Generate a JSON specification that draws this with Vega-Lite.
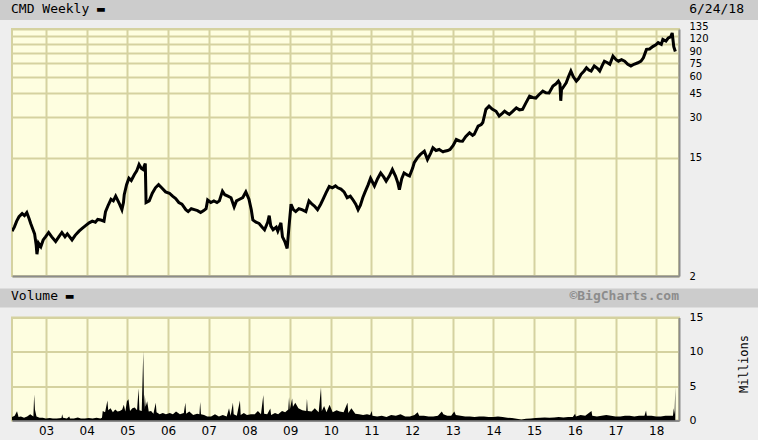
{
  "$schema": "https://vega.github.io/schema/vega-lite/v6.json",
  "background": "#EEEEEE",
  "padding": {"left": 0, "top": 0, "right": 0, "bottom": 10},
  "config": {
    "view": {"stroke": null},
    "font": "DejaVu Sans",
    "title": {"font": "DejaVu Sans Mono", "fontSize": 13, "fontWeight": "normal", "color": "#000000", "baseline": "alphabetic", "frame": "group"},
    "axis": {"labelFont": "DejaVu Sans", "labelFontSize": 11, "labelColor": "#000000", "gridColor": "#D5D2A0", "gridWidth": 2, "gridOpacity": 1, "ticks": false, "domainColor": "#8C8C8C", "domainWidth": 2, "labelFlush": false}
  },
  "datasets": {
    "px": [
      {"d":"2002-03-01","p":4.3},{"d":"2002-03-22","p":4.6},{"d":"2002-04-12","p":5.1},{"d":"2002-05-03","p":5.5},{"d":"2002-05-31","p":5.8},{"d":"2002-06-21","p":5.6},{"d":"2002-07-12","p":5.9},{"d":"2002-08-02","p":5.3},{"d":"2002-08-16","p":4.9},{"d":"2002-09-06","p":4.4},{"d":"2002-09-20","p":4.1},{"d":"2002-10-04","p":3.4},{"d":"2002-10-11","p":2.9},{"d":"2002-10-25","p":3.5},{"d":"2002-11-15","p":3.3},{"d":"2002-12-06","p":3.7},{"d":"2002-12-27","p":3.9},
      {"d":"2003-01-24","p":4.2},{"d":"2003-02-21","p":3.9},{"d":"2003-03-28","p":3.6},{"d":"2003-04-25","p":3.9},{"d":"2003-05-23","p":4.2},{"d":"2003-06-20","p":3.9},{"d":"2003-07-11","p":4.1},{"d":"2003-08-01","p":3.9},{"d":"2003-08-22","p":3.7},{"d":"2003-09-19","p":4.0},{"d":"2003-10-24","p":4.3},{"d":"2003-11-21","p":4.5},{"d":"2003-12-19","p":4.7},
      {"d":"2004-01-23","p":4.95},{"d":"2004-02-20","p":5.1},{"d":"2004-03-19","p":5.0},{"d":"2004-04-09","p":5.25},{"d":"2004-05-07","p":5.2},{"d":"2004-06-04","p":5.1},{"d":"2004-06-18","p":6.0},{"d":"2004-07-09","p":6.6},{"d":"2004-08-06","p":7.4},{"d":"2004-08-27","p":7.2},{"d":"2004-09-17","p":7.8},{"d":"2004-10-08","p":7.2},{"d":"2004-10-22","p":6.8},{"d":"2004-11-12","p":6.2},{"d":"2004-11-26","p":7.0},{"d":"2004-12-03","p":8.0},{"d":"2004-12-24","p":9.5},
      {"d":"2005-01-14","p":10.6},{"d":"2005-02-04","p":10.2},{"d":"2005-03-04","p":11.3},{"d":"2005-03-25","p":12.0},{"d":"2005-04-15","p":13.4},{"d":"2005-05-06","p":12.5},{"d":"2005-05-20","p":12.3},{"d":"2005-06-03","p":13.2},{"d":"2005-06-10","p":13.6},{"d":"2005-06-17","p":7.0},{"d":"2005-07-15","p":7.2},{"d":"2005-08-12","p":8.2},{"d":"2005-09-09","p":9.0},{"d":"2005-10-07","p":9.5},{"d":"2005-11-04","p":9.0},{"d":"2005-12-09","p":8.4},
      {"d":"2006-01-13","p":8.2},{"d":"2006-02-10","p":7.8},{"d":"2006-03-10","p":7.5},{"d":"2006-04-07","p":7.0},{"d":"2006-05-05","p":6.8},{"d":"2006-06-09","p":6.2},{"d":"2006-06-30","p":6.0},{"d":"2006-07-28","p":6.3},{"d":"2006-08-25","p":6.2},{"d":"2006-09-22","p":6.1},{"d":"2006-10-20","p":5.9},{"d":"2006-11-17","p":6.1},{"d":"2006-12-08","p":6.3},{"d":"2006-12-22","p":7.3},
      {"d":"2007-01-19","p":7.0},{"d":"2007-02-16","p":7.2},{"d":"2007-03-16","p":7.0},{"d":"2007-04-06","p":7.2},{"d":"2007-05-04","p":8.5},{"d":"2007-05-25","p":8.0},{"d":"2007-06-22","p":7.8},{"d":"2007-07-20","p":7.6},{"d":"2007-08-17","p":6.5},{"d":"2007-09-07","p":7.2},{"d":"2007-10-05","p":7.4},{"d":"2007-11-02","p":7.6},{"d":"2007-11-16","p":8.0},{"d":"2007-11-30","p":8.4},{"d":"2007-12-28","p":7.4},
      {"d":"2008-01-18","p":6.2},{"d":"2008-02-01","p":5.2},{"d":"2008-02-29","p":5.0},{"d":"2008-03-28","p":4.9},{"d":"2008-04-25","p":4.6},{"d":"2008-05-16","p":4.4},{"d":"2008-06-13","p":5.0},{"d":"2008-06-27","p":5.6},{"d":"2008-07-11","p":4.7},{"d":"2008-08-01","p":4.4},{"d":"2008-08-29","p":4.6},{"d":"2008-09-12","p":4.3},{"d":"2008-10-10","p":4.95},{"d":"2008-10-24","p":3.9},{"d":"2008-11-14","p":3.6},{"d":"2008-12-05","p":3.2},{"d":"2008-12-19","p":4.4},
      {"d":"2009-01-09","p":6.8},{"d":"2009-01-30","p":6.2},{"d":"2009-02-20","p":6.0},{"d":"2009-03-20","p":6.3},{"d":"2009-04-17","p":6.2},{"d":"2009-05-22","p":6.0},{"d":"2009-06-19","p":7.2},{"d":"2009-07-17","p":6.8},{"d":"2009-08-07","p":6.6},{"d":"2009-09-04","p":6.2},{"d":"2009-10-02","p":6.8},{"d":"2009-10-23","p":7.4},{"d":"2009-11-20","p":8.3},{"d":"2009-12-18","p":9.2},
      {"d":"2010-01-15","p":9.0},{"d":"2010-02-12","p":9.3},{"d":"2010-03-05","p":9.0},{"d":"2010-04-02","p":8.8},{"d":"2010-04-30","p":8.4},{"d":"2010-05-28","p":7.6},{"d":"2010-06-25","p":7.8},{"d":"2010-07-16","p":7.4},{"d":"2010-08-13","p":6.8},{"d":"2010-09-03","p":6.2},{"d":"2010-09-24","p":6.7},{"d":"2010-10-15","p":7.6},{"d":"2010-11-05","p":8.4},{"d":"2010-12-03","p":9.5},{"d":"2010-12-24","p":10.6},
      {"d":"2011-01-28","p":9.3},{"d":"2011-02-25","p":10.5},{"d":"2011-03-25","p":11.6},{"d":"2011-04-22","p":10.8},{"d":"2011-05-13","p":10.1},{"d":"2011-06-10","p":11.0},{"d":"2011-07-08","p":12.3},{"d":"2011-08-05","p":11.0},{"d":"2011-08-26","p":9.8},{"d":"2011-09-09","p":8.7},{"d":"2011-09-30","p":10.5},{"d":"2011-10-21","p":11.6},{"d":"2011-11-18","p":11.2},{"d":"2011-12-09","p":11.0},
      {"d":"2012-01-06","p":12.6},{"d":"2012-01-20","p":13.8},{"d":"2012-02-17","p":15.0},{"d":"2012-03-16","p":15.9},{"d":"2012-04-20","p":16.8},{"d":"2012-05-18","p":14.6},{"d":"2012-06-15","p":16.2},{"d":"2012-07-06","p":17.8},{"d":"2012-08-03","p":17.0},{"d":"2012-08-31","p":17.3},{"d":"2012-10-05","p":16.6},{"d":"2012-10-19","p":16.8},{"d":"2012-11-16","p":17.0},{"d":"2012-12-07","p":17.3},
      {"d":"2013-01-04","p":18.5},{"d":"2013-02-01","p":20.5},{"d":"2013-03-01","p":20.0},{"d":"2013-03-29","p":19.9},{"d":"2013-04-26","p":21.5},{"d":"2013-05-31","p":23.0},{"d":"2013-06-28","p":22.0},{"d":"2013-07-12","p":22.4},{"d":"2013-08-16","p":25.8},{"d":"2013-09-13","p":26.5},{"d":"2013-09-27","p":27.4},{"d":"2013-10-25","p":34.3},{"d":"2013-11-22","p":36.2},{"d":"2013-12-20","p":34.5},
      {"d":"2014-01-24","p":33.2},{"d":"2014-02-21","p":30.6},{"d":"2014-03-21","p":32.0},{"d":"2014-04-11","p":33.2},{"d":"2014-05-09","p":32.0},{"d":"2014-05-23","p":31.5},{"d":"2014-06-20","p":33.0},{"d":"2014-07-25","p":35.2},{"d":"2014-08-22","p":34.0},{"d":"2014-09-19","p":34.3},{"d":"2014-10-17","p":38.0},{"d":"2014-11-21","p":43.0},{"d":"2014-12-19","p":42.0},
      {"d":"2015-01-16","p":41.6},{"d":"2015-02-13","p":44.0},{"d":"2015-03-20","p":46.8},{"d":"2015-04-17","p":45.5},{"d":"2015-05-15","p":45.3},{"d":"2015-06-19","p":51.0},{"d":"2015-07-17","p":53.0},{"d":"2015-08-07","p":55.5},{"d":"2015-08-21","p":53.0},{"d":"2015-08-28","p":39.7},{"d":"2015-09-04","p":48.0},{"d":"2015-09-18","p":49.8},{"d":"2015-10-16","p":54.0},{"d":"2015-11-06","p":60.0},{"d":"2015-11-27","p":65.9},{"d":"2015-12-18","p":60.0},
      {"d":"2016-01-15","p":55.5},{"d":"2016-02-05","p":58.0},{"d":"2016-02-26","p":62.3},{"d":"2016-03-25","p":66.0},{"d":"2016-04-15","p":69.7},{"d":"2016-05-06","p":67.0},{"d":"2016-05-27","p":65.9},{"d":"2016-06-24","p":71.9},{"d":"2016-07-22","p":69.0},{"d":"2016-08-12","p":65.9},{"d":"2016-09-02","p":72.0},{"d":"2016-09-23","p":78.0},{"d":"2016-10-21","p":76.0},{"d":"2016-11-11","p":74.0},{"d":"2016-12-09","p":85.0},
      {"d":"2017-01-06","p":80.0},{"d":"2017-01-27","p":78.0},{"d":"2017-02-24","p":80.0},{"d":"2017-03-24","p":78.0},{"d":"2017-04-21","p":74.0},{"d":"2017-05-19","p":71.9},{"d":"2017-06-16","p":74.0},{"d":"2017-07-21","p":75.9},{"d":"2017-08-18","p":78.0},{"d":"2017-09-08","p":82.6},{"d":"2017-10-06","p":95.4},{"d":"2017-11-03","p":96.0},{"d":"2017-12-01","p":100.0},{"d":"2017-12-29","p":103.0},
      {"d":"2018-01-19","p":107.0},{"d":"2018-02-16","p":104.0},{"d":"2018-03-02","p":113.0},{"d":"2018-03-30","p":110.0},{"d":"2018-04-20","p":116.0},{"d":"2018-05-11","p":118.0},{"d":"2018-05-25","p":126.0},{"d":"2018-06-08","p":100.0},{"d":"2018-06-22","p":92.0}
    ],
    "vol": [
      {"d":"2002-03-01","v":0.5},{"d":"2002-03-25","v":0.7},{"d":"2002-04-15","v":1.35},{"d":"2002-04-29","v":0.5},{"d":"2002-05-20","v":0.6},{"d":"2002-06-17","v":0.4},{"d":"2002-07-15","v":0.6},{"d":"2002-08-12","v":0.9},{"d":"2002-09-09","v":0.6},{"d":"2002-09-16","v":3.8},{"d":"2002-09-23","v":1.6},{"d":"2002-10-07","v":0.6},{"d":"2002-11-04","v":0.4},{"d":"2002-12-02","v":0.4},{"d":"2002-12-30","v":0.3},
      {"d":"2003-02-03","v":0.35},{"d":"2003-03-03","v":0.3},{"d":"2003-04-07","v":0.3},{"d":"2003-05-19","v":0.35},{"d":"2003-05-26","v":0.9},{"d":"2003-06-02","v":0.4},{"d":"2003-07-07","v":0.3},{"d":"2003-07-28","v":0.6},{"d":"2003-08-04","v":0.3},{"d":"2003-09-08","v":0.3},{"d":"2003-10-13","v":0.45},{"d":"2003-11-10","v":0.3},{"d":"2003-12-15","v":0.3},
      {"d":"2004-01-19","v":0.35},{"d":"2004-02-23","v":0.3},{"d":"2004-03-29","v":0.4},{"d":"2004-05-03","v":0.3},{"d":"2004-05-17","v":0.4},{"d":"2004-05-24","v":1.4},{"d":"2004-06-14","v":1.2},{"d":"2004-07-05","v":2.9},{"d":"2004-07-12","v":1.5},{"d":"2004-08-02","v":1.8},{"d":"2004-08-23","v":1.2},{"d":"2004-09-13","v":1.6},{"d":"2004-10-04","v":1.3},{"d":"2004-10-25","v":1.4},{"d":"2004-11-15","v":1.6},{"d":"2004-11-29","v":2.3},{"d":"2004-12-13","v":1.3},{"d":"2004-12-27","v":2.8},
      {"d":"2005-01-10","v":3.1},{"d":"2005-01-24","v":1.4},{"d":"2005-02-14","v":1.8},{"d":"2005-03-07","v":1.9},{"d":"2005-03-28","v":1.5},{"d":"2005-04-11","v":4.7},{"d":"2005-04-18","v":1.5},{"d":"2005-05-09","v":1.4},{"d":"2005-05-23","v":10.1},{"d":"2005-05-30","v":1.6},{"d":"2005-06-06","v":3.8},{"d":"2005-06-13","v":2.0},{"d":"2005-06-27","v":2.8},{"d":"2005-07-11","v":1.3},{"d":"2005-08-01","v":1.4},{"d":"2005-08-22","v":1.0},{"d":"2005-09-12","v":2.6},{"d":"2005-09-19","v":1.2},{"d":"2005-10-17","v":0.9},{"d":"2005-11-14","v":1.1},{"d":"2005-12-12","v":0.9},
      {"d":"2006-01-16","v":1.1},{"d":"2006-02-13","v":0.9},{"d":"2006-03-13","v":1.3},{"d":"2006-04-17","v":0.9},{"d":"2006-05-22","v":1.1},{"d":"2006-06-05","v":2.6},{"d":"2006-06-12","v":1.0},{"d":"2006-07-10","v":1.3},{"d":"2006-08-14","v":0.8},{"d":"2006-09-18","v":1.0},{"d":"2006-10-09","v":0.9},{"d":"2006-10-16","v":2.7},{"d":"2006-10-23","v":0.9},{"d":"2006-11-20","v":0.8},{"d":"2006-12-18","v":0.6},
      {"d":"2007-01-22","v":0.6},{"d":"2007-02-26","v":0.9},{"d":"2007-04-02","v":0.6},{"d":"2007-05-07","v":0.8},{"d":"2007-06-11","v":0.6},{"d":"2007-07-02","v":1.8},{"d":"2007-07-16","v":0.7},{"d":"2007-08-06","v":2.6},{"d":"2007-08-13","v":0.9},{"d":"2007-09-10","v":0.7},{"d":"2007-10-08","v":2.9},{"d":"2007-10-15","v":0.8},{"d":"2007-11-12","v":1.1},{"d":"2007-12-10","v":0.8},
      {"d":"2008-01-14","v":0.9},{"d":"2008-02-18","v":0.9},{"d":"2008-03-17","v":1.4},{"d":"2008-04-14","v":0.9},{"d":"2008-05-05","v":3.7},{"d":"2008-05-12","v":1.0},{"d":"2008-06-09","v":0.9},{"d":"2008-07-07","v":1.75},{"d":"2008-07-14","v":0.8},{"d":"2008-08-18","v":1.1},{"d":"2008-09-15","v":0.9},{"d":"2008-10-20","v":1.4},{"d":"2008-11-17","v":1.2},{"d":"2008-12-15","v":1.6},{"d":"2008-12-22","v":3.4},{"d":"2008-12-29","v":1.6},
      {"d":"2009-01-19","v":3.2},{"d":"2009-01-26","v":2.0},{"d":"2009-02-16","v":2.6},{"d":"2009-03-16","v":1.8},{"d":"2009-04-20","v":1.5},{"d":"2009-05-25","v":1.4},{"d":"2009-06-01","v":3.2},{"d":"2009-06-08","v":1.4},{"d":"2009-07-13","v":1.3},{"d":"2009-08-10","v":1.8},{"d":"2009-09-14","v":1.2},{"d":"2009-10-05","v":4.85},{"d":"2009-10-12","v":1.4},{"d":"2009-11-02","v":2.1},{"d":"2009-11-23","v":1.2},{"d":"2009-12-21","v":2.3},
      {"d":"2010-01-18","v":1.2},{"d":"2010-02-22","v":1.5},{"d":"2010-03-22","v":1.3},{"d":"2010-04-26","v":1.2},{"d":"2010-05-31","v":2.6},{"d":"2010-06-07","v":1.1},{"d":"2010-07-05","v":1.8},{"d":"2010-08-09","v":1.0},{"d":"2010-09-13","v":0.9},{"d":"2010-10-18","v":0.8},{"d":"2010-11-22","v":0.9},{"d":"2010-12-20","v":0.8},
      {"d":"2011-01-03","v":1.4},{"d":"2011-01-10","v":0.7},{"d":"2011-02-21","v":0.6},{"d":"2011-04-04","v":0.7},{"d":"2011-05-16","v":0.5},{"d":"2011-06-27","v":0.8},{"d":"2011-08-08","v":0.7},{"d":"2011-09-19","v":0.9},{"d":"2011-10-31","v":0.6},{"d":"2011-12-12","v":0.6},
      {"d":"2012-01-23","v":0.8},{"d":"2012-02-20","v":1.2},{"d":"2012-03-05","v":0.7},{"d":"2012-04-16","v":0.7},{"d":"2012-05-28","v":0.6},{"d":"2012-07-09","v":0.6},{"d":"2012-08-20","v":0.7},{"d":"2012-09-24","v":1.3},{"d":"2012-10-08","v":0.9},{"d":"2012-11-12","v":0.7},{"d":"2012-12-17","v":0.7},
      {"d":"2013-01-14","v":1.3},{"d":"2013-01-28","v":0.8},{"d":"2013-03-11","v":0.7},{"d":"2013-04-22","v":0.6},{"d":"2013-06-03","v":0.6},{"d":"2013-07-15","v":0.5},{"d":"2013-08-26","v":0.6},{"d":"2013-10-07","v":0.6},{"d":"2013-11-18","v":0.5},{"d":"2013-12-30","v":0.5},
      {"d":"2014-02-10","v":0.6},{"d":"2014-03-24","v":0.5},{"d":"2014-05-05","v":0.4},{"d":"2014-06-16","v":0.35},{"d":"2014-07-28","v":0.25},{"d":"2014-09-08","v":0.15},{"d":"2014-10-20","v":0.25},{"d":"2014-12-01","v":0.3},
      {"d":"2015-01-12","v":0.35},{"d":"2015-02-23","v":0.4},{"d":"2015-04-06","v":0.45},{"d":"2015-05-18","v":0.4},{"d":"2015-06-29","v":0.45},{"d":"2015-08-10","v":0.5},{"d":"2015-09-21","v":0.45},{"d":"2015-11-02","v":0.5},{"d":"2015-12-14","v":0.5},
      {"d":"2016-01-04","v":1.0},{"d":"2016-01-11","v":0.6},{"d":"2016-02-22","v":0.8},{"d":"2016-04-04","v":0.7},{"d":"2016-05-30","v":1.4},{"d":"2016-06-06","v":0.7},{"d":"2016-07-18","v":0.6},{"d":"2016-08-29","v":0.7},{"d":"2016-10-10","v":0.8},{"d":"2016-11-21","v":0.7},
      {"d":"2017-01-02","v":0.6},{"d":"2017-02-13","v":0.6},{"d":"2017-03-27","v":0.7},{"d":"2017-05-08","v":0.7},{"d":"2017-06-19","v":0.6},{"d":"2017-07-31","v":0.7},{"d":"2017-09-18","v":0.7},{"d":"2017-10-02","v":1.45},{"d":"2017-10-09","v":0.7},{"d":"2017-11-20","v":0.7},
      {"d":"2018-01-01","v":0.6},{"d":"2018-02-12","v":0.6},{"d":"2018-03-26","v":0.7},{"d":"2018-05-07","v":0.7},{"d":"2018-06-01","v":0.7},{"d":"2018-06-08","v":1.8},{"d":"2018-06-15","v":0.9},{"d":"2018-06-22","v":4.9}
    ]
  },
  "spacing": 0,
  "vconcat": [
    {
      "spacing": 0,
      "hconcat": [
        {"data": {"values": []}, "mark": "point", "width": 680, "height": 20, "view": {"fill": "#CCCCCC", "stroke": null},
         "title": {"text": "CMD Weekly ▬", "anchor": "start", "dx": 11, "offset": -15.5}},
        {"data": {"values": []}, "mark": "point", "width": 78, "height": 20, "view": {"fill": "#CCCCCC", "stroke": null},
         "title": {"text": "6/24/18", "anchor": "end", "dx": -14, "offset": -15.5}}
      ]
    },
    {
      "spacing": 6.5,
      "vconcat": [
        {
          "spacing": 10,
          "hconcat": [
            {"data": {"values": []}, "mark": "point", "width": 1, "height": 1},
            {
              "data": {"name": "px"},
              "width": 667,
              "height": 247,
              "view": {"fill": "#FEFEE0", "stroke": "#D5D2A0", "strokeWidth": 2},
              "mark": {"type": "line", "color": "#000000", "strokeWidth": 3, "clip": true},
              "encoding": {
                "x": {"field": "d", "type": "temporal",
                      "scale": {"domain": [{"year": 2002, "month": 3, "date": 1}, {"year": 2018, "month": 7, "date": 25}]},
                      "axis": {"labels": false, "title": null, "grid": true, "tickCount": {"interval": "year", "step": 1}}},
                "y": {"field": "p", "type": "quantitative",
                      "scale": {"type": "log", "domain": [2, 135], "nice": false},
                      "axis": {"orient": "right", "title": null, "grid": true, "values": [2, 15, 30, 45, 60, 75, 90, 105, 120, 135], "format": "d",
                               "labelExpr": "datum.value == 105 ? '' : datum.label", "labelOverlap": false, "labelPadding": 10, "labelFontSize": 10,
                               "labelOffset": {"condition": [{"test": "datum.value == 135", "value": -2.5}, {"test": "datum.value == 120", "value": 2.5}, {"test": "datum.value == 90", "value": -1}, {"test": "datum.value == 75", "value": 0.5}], "value": 0}}}
              }
            }
          ]
        },
        {
          "spacing": 3,
          "vconcat": [
            {
              "spacing": 0,
              "hconcat": [
                {"data": {"values": []}, "mark": "point", "width": 340, "height": 19, "view": {"fill": "#CCCCCC", "stroke": null},
                 "title": {"text": "Volume ▬", "anchor": "start", "dx": 11, "offset": -14}},
                {"data": {"values": []}, "mark": "point", "width": 340, "height": 19, "view": {"fill": "#CCCCCC", "stroke": null},
                 "title": {"text": "©BigCharts.com", "anchor": "end", "dx": -1, "offset": -14, "fontWeight": "bold", "color": "#8C8C8C"}},
                {"data": {"values": []}, "mark": "point", "width": 78, "height": 19, "view": {"fill": "#CCCCCC", "stroke": null}}
              ]
            },
            {
              "spacing": 10,
              "hconcat": [
                {"data": {"values": []}, "mark": "point", "width": 1, "height": 1},
                {
                  "data": {"name": "vol"},
                  "width": 667,
                  "height": 103,
                  "view": {"fill": "#FEFEE0", "stroke": "#D5D2A0", "strokeWidth": 2},
                  "mark": {"type": "area", "color": "#000000", "interpolate": "linear", "clip": true},
                  "encoding": {
                    "x": {"field": "d", "type": "temporal",
                          "scale": {"domain": [{"year": 2002, "month": 3, "date": 1}, {"year": 2018, "month": 7, "date": 25}]},
                          "axis": {"format": "%y", "title": null, "grid": true, "tickCount": {"interval": "year", "step": 1}, "labelFontSize": 12, "labelPadding": 5}},
                    "y": {"field": "v", "type": "quantitative",
                          "scale": {"domain": [0, 15], "nice": false},
                          "axis": {"orient": "right", "values": [0, 5, 10, 15], "grid": true, "labelPadding": 10, "labelOverlap": false,
                                   "title": "Millions", "titleAngle": 270, "titleBaseline": "alphabetic", "titleFont": "DejaVu Sans Mono", "titleFontSize": 12, "titleFontWeight": "normal", "titleColor": "#000000", "titlePadding": 45, "titleY": 46}}
                  }
                }
              ]
            }
          ]
        }
      ]
    }
  ]
}
